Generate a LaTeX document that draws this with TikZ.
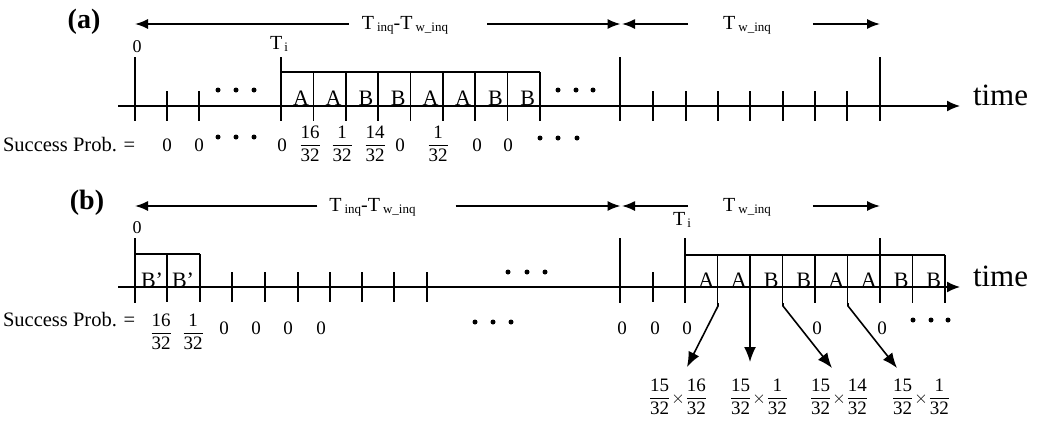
\documentclass[tikz,border=0pt]{standalone}
\usepackage{amsmath}
\usepackage{fontspec}
\setmainfont{Liberation Serif}
\usetikzlibrary{arrows.meta}
\newcommand{\sbt}[1]{{\fontsize{13}{13}\selectfont\raisebox{-2pt}{#1}}}
\newcommand{\fr}[2]{$\dfrac{\text{#1}}{\text{#2}}$}
\newcommand{\prd}[2]{$\dfrac{\text{15}}{\text{32}}\!\times\!\dfrac{\text{#1}}{\text{#2}}$}
\tikzset{
  ax/.style={-{Latex[length=13pt,width=11pt]}},
  dim/.style={-{Latex[length=13pt,width=10pt]}},
  pa/.style={-{Latex[length=15pt,width=12pt]}},
  dot/.style={circle,fill,inner sep=0pt,minimum size=5pt},
  lt/.style={font=\fontsize{22}{24}\selectfont,anchor=base},
  val/.style={font=\fontsize{19}{22}\selectfont},
  sp/.style={font=\fontsize{20.5}{24}\selectfont,anchor=base west},
  tl/.style={font=\fontsize{20}{22}\selectfont},
  zl/.style={font=\fontsize{18}{20}\selectfont},
  hd/.style={font=\fontsize{28}{30}\selectfont\bfseries},
  timel/.style={font=\fontsize{31}{34}\selectfont,anchor=base west}
}
\begin{document}
\begin{tikzpicture}[x=1pt,y=-1pt,line width=1.6pt,every node/.style={inner sep=0pt,outer sep=0pt}]
\useasboundingbox (0,0) rectangle (1041,426);

% ================= (a) =================
\node[hd] (ha) at (84,22) {(a)};
\coordinate (a0) at (118,106); \coordinate (a1) at (960,106);
\draw[ax] (a0) -- (a1);
\node[timel] (timea) at (973,105) {time};
\foreach \x in {135,281,620,880} \draw (\x,57) -- (\x,121);
\foreach \x in {167,199,653,686,718,750,783,815,847} \draw (\x,91) -- (\x,121);
\draw (281,72) -- (540,72);
\foreach \i in {1,...,8} \draw ({281+\i*32.375},72) -- ({281+\i*32.375},121);
\foreach \l [count=\i] in {A,A,B,B,A,A,B,B}
  \node[lt] (la\i) at ({281+(\i-0.5)*32.375+4},105) {\l};
\foreach \x [count=\i] in {218,236,254} \node[dot] (dxa\i) at (\x,90) {};
\foreach \x [count=\i] in {558,576,593} \node[dot] (dya\i) at (\x,90) {};
\node[zl] (za) at (137,47) {0};
\node[tl] (tia) at (279,44) {T\hspace{2pt}\sbt{i}};
% dimension arrows
\coordinate (pa0) at (135,24); \coordinate (pa1) at (620.5,24);
\coordinate (pa2) at (622,24); \coordinate (pa3) at (880,24);
\node[tl] (La1) at (405,25) {T\hspace{3pt}\sbt{inq}-T\hspace{3pt}\sbt{w\_inq}};
\node[tl] (La2) at (747,25) {T\hspace{3pt}\sbt{w\_inq}};
\draw[dim,shorten <=13pt] (La1.west |- pa0) -- (pa0);
\draw[dim,shorten <=39pt] (La1.east |- pa1) -- (pa1);
\draw[dim,shorten <=35pt] (La2.west |- pa2) -- (pa2);
\draw[dim,shorten <=42pt] (La2.east |- pa3) -- (pa3);
% success row
\node[sp] (spa) at (3,151) {Success Prob. =};
\foreach \x [count=\i] in {167,199,282,400,477,508} \node[val] (va\i) at (\x,145) {0};
\node[val] (fa1) at (310,144) {\fr{16}{32}};
\node[val] (fa2) at (342,144) {\fr{1}{32}};
\node[val] (fa3) at (375,144) {\fr{14}{32}};
\node[val] (fa4) at (438,144) {\fr{1}{32}};
\foreach \x [count=\i] in {218,236,254} \node[dot] (dsa\i) at (\x,137) {};
\foreach \x [count=\i] in {540,558,577} \node[dot] (dta\i) at (\x,138) {};

% ================= (b) =================
\node[hd] (hb) at (87,203) {(b)};
\coordinate (b0) at (118,287); \coordinate (b1) at (960,287);
\draw[ax] (b0) -- (b1);
\node[timel] (timeb) at (973,286) {time};
\foreach \x in {135,620,685,880} \draw (\x,238) -- (\x,303);
\foreach \x in {232,265,298,330,362,394,427,653} \draw (\x,272) -- (\x,302);
\draw (135,254) -- (200,254);
\foreach \x in {167,200} \draw (\x,254) -- (\x,302);
\node[lt] (bp1) at (152,287) {B'};
\node[lt] (bp2) at (183,287) {B'};
\draw (685,255) -- (945,255);
\foreach \i in {1,...,8} \draw ({685+\i*32.5},255) -- ({685+\i*32.5},303);
\foreach \l [count=\i] in {A,A,B,B,A,A,B,B}
  \node[lt] (lb\i) at ({685+(\i-0.5)*32.5+5},287) {\l};
\foreach \x [count=\i] in {508,527,545} \node[dot] (dxb\i) at (\x,272) {};
\node[zl] (zb) at (137,228) {0};
\node[tl] (tib) at (682,220) {T\hspace{2pt}\sbt{i}};
% dimension arrows
\coordinate (pb0) at (135,206); \coordinate (pb1) at (620.5,206);
\coordinate (pb2) at (622,206); \coordinate (pb3) at (880,206);
\node[tl] (Lb1) at (372.5,207) {T\hspace{3pt}\sbt{inq}-T\hspace{3pt}\sbt{w\_inq}};
\node[tl] (Lb2) at (747,207) {T\hspace{3pt}\sbt{w\_inq}};
\draw[dim,shorten <=12pt] (Lb1.west |- pb0) -- (pb0);
\draw[dim,shorten <=40pt] (Lb1.east |- pb1) -- (pb1);
\draw[dim,shorten <=35pt] (Lb2.west |- pb2) -- (pb2);
\draw[dim,shorten <=42pt] (Lb2.east |- pb3) -- (pb3);
% success row
\node[sp] (spb) at (3,326) {Success Prob. =};
\node[val] (fb1) at (161,332) {\fr{16}{32}};
\node[val] (fb2) at (193,332) {\fr{1}{32}};
\foreach \x [count=\i] in {224,256,288,321,622,655,687,817,882} \node[val] (vb\i) at (\x,328) {0};
\foreach \x [count=\i] in {475,493,511} \node[dot] (dsb\i) at (\x,322) {};
\foreach \x [count=\i] in {913,931,948} \node[dot] (dtb\i) at (\x,320) {};
% products and arrows
\node[val] (pr1) at (678,397) {\prd{16}{32}};
\node[val] (pr2) at (759,397) {\prd{1}{32}};
\node[val] (pr3) at (839,397) {\prd{14}{32}};
\node[val] (pr4) at (921,397) {\prd{1}{32}};
\coordinate (s1) at (718,303); \coordinate (e1) at (687,367);
\coordinate (s2) at (750,303); \coordinate (e2) at (750,362);
\coordinate (s3) at (783,303); \coordinate (e3) at (832,368);
\coordinate (s4) at (848,303); \coordinate (e4) at (897,368);
\draw[pa] (s1) -- ++(0,3) -- (e1);
\draw[pa] (s2) -- (e2);
\draw[pa] (s3) -- ++(0,3) -- (e3);
\draw[pa] (s4) -- ++(0,3) -- (e4);
\end{tikzpicture}
\end{document}
